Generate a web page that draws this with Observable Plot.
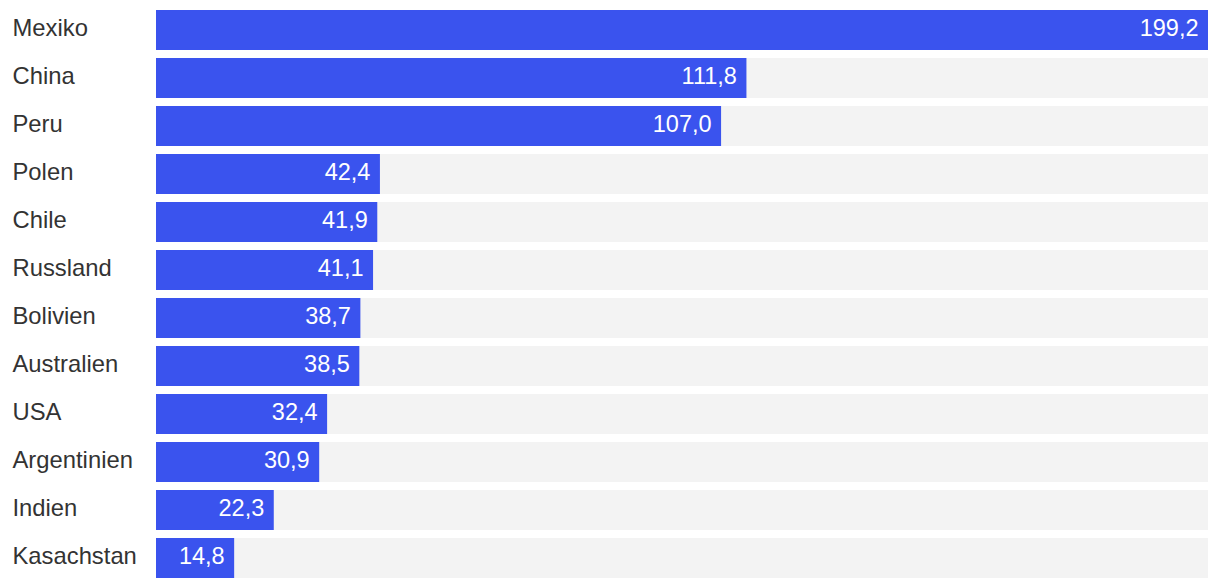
<!DOCTYPE html>
<html>
<head>
<meta charset="utf-8">
<script src="https://cdn.jsdelivr.net/npm/d3@7"></script>
<script src="https://cdn.jsdelivr.net/npm/@observablehq/plot@0.6"></script>
<style>
  html, body { margin: 0; padding: 0; background: #fff; }
  #chart svg { display: block; }
</style>
</head>
<body>
<div id="chart"></div>
<script>
const countries = ["Mexiko", "China", "Peru", "Polen", "Chile", "Russland", "Bolivien", "Australien", "USA", "Argentinien", "Indien", "Kasachstan"];
const values = [199.2, 111.8, 107.0, 42.4, 41.9, 41.1, 38.7, 38.5, 32.4, 30.9, 22.3, 14.8];
const maxValue = 199.2;

const data = countries.map((c, i) => ({country: c, value: values[i]}));
const fmt = v => v.toFixed(1).replace(".", ",");

const chart = Plot.plot({
  width: 1220,
  height: 588,
  marginLeft: 156,
  marginRight: 12,
  marginTop: 10,
  marginBottom: 10,
  style: {fontFamily: "'Liberation Sans', Arial, Helvetica, sans-serif", background: "#fff"},
  x: {domain: [0, maxValue], axis: null},
  y: {domain: countries, paddingInner: 8 / 48, paddingOuter: 0, axis: null},
  marks: [
    Plot.barX(data, {y: "country", x1: 0, x2: () => maxValue, fill: "#f3f3f3"}),
    Plot.barX(data, {y: "country", x1: 0, x2: "value", fill: "#3a53ee"}),
    Plot.text(data, {y: "country", x: "value", text: d => fmt(d.value), textAnchor: "end", dx: -10, dy: -2, fill: "#ffffff", fontSize: 23.5}),
    Plot.text(data, {y: "country", frameAnchor: "left", dx: -144, dy: -2, text: "country", textAnchor: "start", fill: "#333333", fontSize: 23.8})
  ]
});
document.getElementById("chart").appendChild(chart);
</script>
</body>
</html>
